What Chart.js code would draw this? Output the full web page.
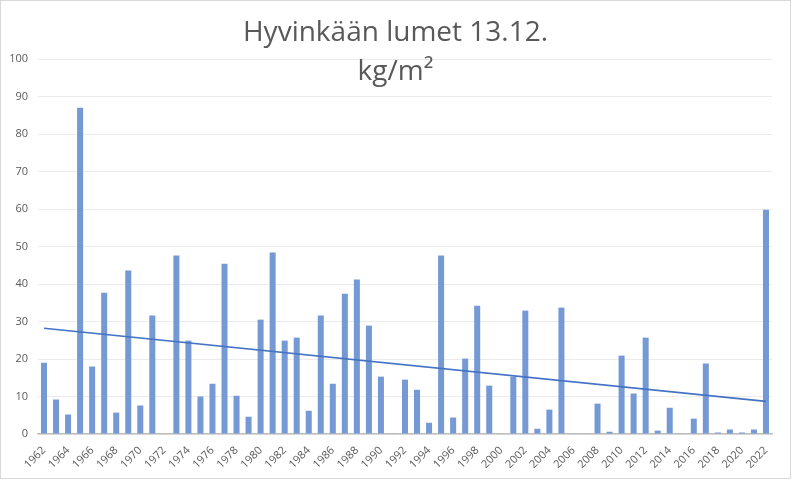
<!DOCTYPE html>
<html>
<head>
<meta charset="utf-8">
<script src="https://cdn.jsdelivr.net/npm/chart.js@4"></script>
<style>
  body { margin: 0; background: #fff; }
  #wrap { position: absolute; left: 0; top: 0; width: 789px; height: 477px; border: 1px solid #d9d9d9; }
</style>
</head>
<body>
<div id="wrap"><canvas id="chart" width="789" height="477"></canvas></div>
<script>
// Years on the x axis
const years = [
  '1962','1963','1964','1965','1966','1967','1968','1969','1970','1971',
  '1972','1973','1974','1975','1976','1977','1978','1979','1980','1981',
  '1982','1983','1984','1985','1986','1987','1988','1989','1990','1991',
  '1992','1993','1994','1995','1996','1997','1998','1999','2000','2001',
  '2002','2003','2004','2005','2006','2007','2008','2009','2010','2011',
  '2012','2013','2014','2015','2016','2017','2018','2019','2020','2021',
  '2022'
];

// Snow water equivalent on 13.12., kg/m2
const snow = [
  19.0, 9.2, 5.2, 87.0, 18.0, 37.7, 5.7, 43.6, 7.6, 31.6,
  0, 47.6, 24.9, 10.0, 13.4, 45.4, 10.2, 4.6, 30.5, 48.4,
  24.9, 25.7, 6.2, 31.6, 13.4, 37.4, 41.2, 28.9, 15.3, 0.1,
  14.5, 11.8, 3.0, 47.6, 4.4, 20.1, 34.2, 12.9, 0, 15.3,
  32.9, 1.4, 6.5, 33.7, 0, 0, 8.1, 0.6, 20.9, 10.8,
  25.7, 0.9, 7.0, 0.1, 4.1, 18.8, 0.4, 1.2, 0.4, 1.2,
  59.8
];

// Linear trend line end points
const trendStart = 28.2;
const trendEnd = 8.7;

const yTicks = [0, 10, 20, 30, 40, 50, 60, 70, 80, 90, 100];
const titleLines = ['Hyvinkään lumet 13.12.', 'kg/m²'];

const trend = years.map((y, i) => i === 0 ? trendStart : (i === years.length - 1 ? trendEnd : null));

// Draws the two-line title on top of the plot (it overlaps the top gridline)
const titlePlugin = {
  id: 'titleOverlay',
  afterDraw(chart) {
    const ctx = chart.ctx;
    ctx.save();
    ctx.fillStyle = '#595959';
    ctx.textAlign = 'center';
    ctx.textBaseline = 'alphabetic';
    ctx.font = '28px "Open Sans"';
    ctx.fillText(titleLines[0], 394.5, 40);
    ctx.fillText(titleLines[1], 394.5, 79);
    ctx.restore();
  }
};

const ctx = document.getElementById('chart').getContext('2d');
new Chart(ctx, {
  type: 'bar',
  data: {
    labels: years,
    datasets: [
      {
        type: 'line',
        label: 'Trend',
        data: trend,
        borderColor: '#4472c4',
        borderWidth: 1.75,
        pointRadius: 0,
        spanGaps: true,
        order: 0
      },
      {
        label: 'kg/m²',
        data: snow,
        backgroundColor: '#7599d4',
        categoryPercentage: 1.0,
        barPercentage: 0.5,
        order: 1
      }
    ]
  },
  options: {
    responsive: false,
    animation: false,
    layout: { padding: { top: 58, right: 18, left: 0, bottom: 0 } },
    plugins: {
      legend: { display: false },
      title: { display: false },
      tooltip: { enabled: false }
    },
    scales: {
      x: {
        grid: { display: false },
        border: { color: '#bfbfbf', width: 1.5 },
        ticks: {
          autoSkip: false,
          maxRotation: 45,
          minRotation: 45,
          padding: 2,
          color: '#595959',
          font: { family: 'Open Sans', size: 11 },
          callback: function(value, index) {
            return index % 2 === 0 ? years[index] : '';
          }
        },
        afterFit: function(scale) { scale.height = 44; }
      },
      y: {
        min: 0,
        max: 100,
        afterBuildTicks: function(scale) {
          scale.ticks = yTicks.map(v => ({ value: v }));
        },
        grid: { color: '#ebebeb', lineWidth: 1, drawTicks: false },
        border: { display: false },
        ticks: {
          padding: 10,
          color: '#595959',
          font: { family: 'Open Sans', size: 11 }
        },
        afterFit: function(scale) { scale.width = 37; }
      }
    }
  },
  plugins: [titlePlugin]
});
</script>
</body>
</html>
